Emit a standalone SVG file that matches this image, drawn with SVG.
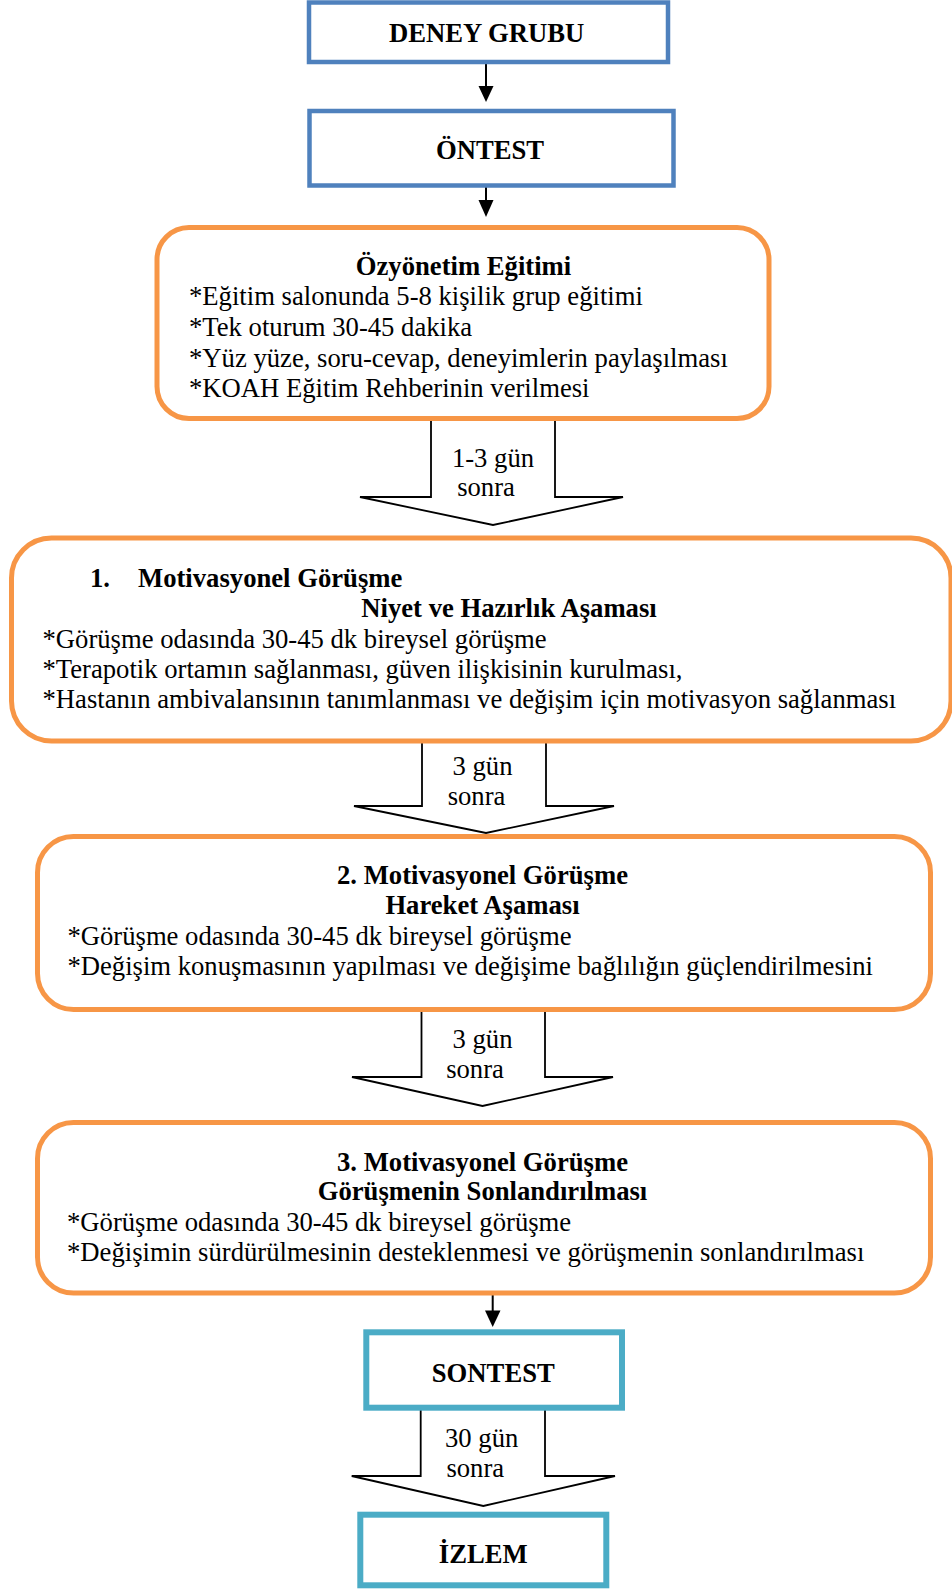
<svg xmlns="http://www.w3.org/2000/svg" width="952" height="1589" viewBox="0 0 952 1589">
<style>
.t{font-family:"Liberation Serif","Times New Roman",serif;font-size:26.67px;fill:#000}
.b{font-weight:bold}
.c{text-anchor:middle}
.blue{fill:#fff;stroke:#4F81BD;stroke-width:4.5}
.org{fill:#fff;stroke:#F79646;stroke-width:5}
.teal{fill:#fff;stroke:#4BACC6;stroke-width:6}
.blk{fill:#fff;stroke:#000;stroke-width:1.8;stroke-linejoin:miter}
.ln{stroke:#000;stroke-width:2;fill:none}
</style>
<rect width="952" height="1589" fill="#fff"/>
<g id="connectors">
<line class="ln" x1="486" y1="64" x2="486" y2="88"/>
<polygon points="478.5,86 493.5,86 486,102" fill="#000"/>
<line class="ln" x1="486" y1="187" x2="486" y2="202"/>
<polygon points="478.5,200 493.5,200 486,217" fill="#000"/>
<polyline class="blk" points="431,420 431,497 360,497 493,525 623,497 555,497 555,420"/>
<text class="t c" x="493" y="467">1-3 gün</text>
<text class="t c" x="486" y="496">sonra</text>
<polyline class="blk" points="422,742 422,806 354,806 486,833 614,806 546,806 546,742"/>
<text class="t c" x="482.5" y="775">3 gün</text>
<text class="t c" x="476.5" y="805">sonra</text>
<polyline class="blk" points="421.5,1011 421.5,1077 352,1077 482.5,1106 613,1077 545,1077 545,1011"/>
<text class="t c" x="482.5" y="1048">3 gün</text>
<text class="t c" x="475" y="1078">sonra</text>
<line class="ln" x1="492.7" y1="1295" x2="492.7" y2="1312"/>
<polygon points="485,1310.5 500.5,1310.5 492.7,1327" fill="#000"/>
<polyline class="blk" points="420.7,1410 420.7,1476 351.7,1476 483.3,1506 615,1476 545,1476 545,1410"/>
<text class="t c" x="481.7" y="1447">30 gün</text>
<text class="t c" x="475.3" y="1477">sonra</text>
</g>
<g id="deney">
<rect class="blue" x="309" y="2.5" width="359" height="59.5"/>
<text class="t b c" x="486.7" y="41.5">DENEY GRUBU</text>
</g>
<g id="ontest">
<rect class="blue" x="309.5" y="111" width="364" height="74.5"/>
<text class="t b c" x="490" y="158.5">ÖNTEST</text>
</g>
<g id="ozyonetim">
<rect class="org" x="157" y="227.5" width="612" height="191" rx="32" ry="32"/>
<text class="t b c" x="463.5" y="275">Özyönetim Eğitimi</text>
<text class="t" x="189" y="305">*Eğitim salonunda 5-8 kişilik grup eğitimi</text>
<text class="t" x="189" y="335.5">*Tek oturum 30-45 dakika</text>
<text class="t" x="189" y="366.5">*Yüz yüze, soru-cevap, deneyimlerin paylaşılması</text>
<text class="t" x="189" y="397">*KOAH Eğitim Rehberinin verilmesi</text>
</g>
<g id="mg1">
<rect class="org" x="11.5" y="538" width="939.5" height="203" rx="40" ry="40"/>
<text class="t b" y="587"><tspan x="90">1.</tspan><tspan x="138">Motivasyonel Görüşme</tspan></text>
<text class="t b c" x="509" y="617">Niyet ve Hazırlık Aşaması</text>
<text class="t" x="42.5" y="647.5">*Görüşme odasında 30-45 dk bireysel görüşme</text>
<text class="t" x="42.5" y="678">*Terapotik ortamın sağlanması, güven ilişkisinin kurulması,</text>
<text class="t" x="42.5" y="708">*Hastanın ambivalansının tanımlanması ve değişim için motivasyon sağlanması</text>
</g>
<g id="mg2">
<rect class="org" x="37.5" y="836.5" width="893" height="173" rx="36" ry="36"/>
<text class="t b c" x="482.5" y="884">2. Motivasyonel Görüşme</text>
<text class="t b c" x="482.5" y="914">Hareket Aşaması</text>
<text class="t" x="67.4" y="944.5">*Görüşme odasında 30-45 dk bireysel görüşme</text>
<text class="t" x="67.4" y="975">*Değişim konuşmasının yapılması ve değişime bağlılığın güçlendirilmesini</text>
</g>
<g id="mg3">
<rect class="org" x="37.5" y="1122.5" width="893" height="170.5" rx="36" ry="36"/>
<text class="t b c" x="482.5" y="1170.5">3. Motivasyonel Görüşme</text>
<text class="t b c" x="482.5" y="1200">Görüşmenin Sonlandırılması</text>
<text class="t" x="67" y="1231">*Görüşme odasında 30-45 dk bireysel görüşme</text>
<text class="t" x="67" y="1261">*Değişimin sürdürülmesinin desteklenmesi ve görüşmenin sonlandırılması</text>
</g>
<g id="sontest">
<rect class="teal" x="366.3" y="1332.3" width="255.7" height="75.4"/>
<text class="t b c" x="493.3" y="1382">SONTEST</text>
</g>
<g id="izlem">
<rect class="teal" x="360.3" y="1514.7" width="246" height="70.6"/>
<text class="t b c" x="483.3" y="1563">İZLEM</text>
</g>
</svg>
